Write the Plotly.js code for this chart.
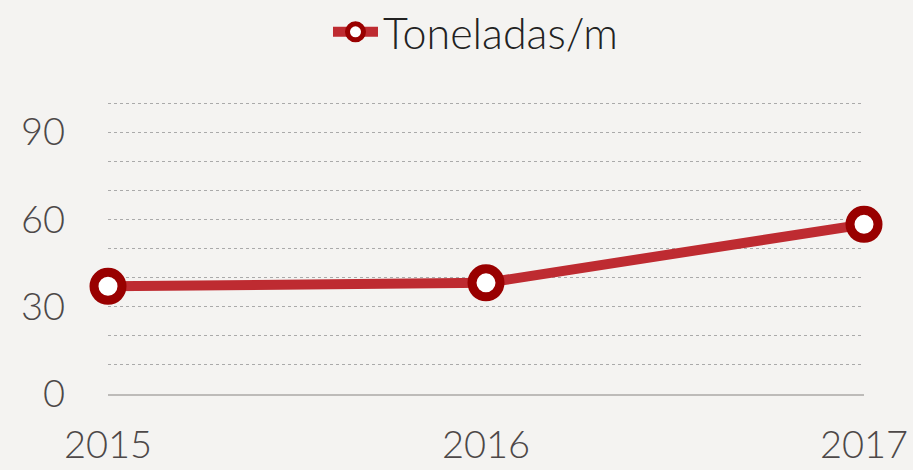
<!DOCTYPE html>
<html>
<head>
<meta charset="utf-8">
<script src="https://cdn.plot.ly/plotly-3.0.1.min.js"></script>
<style>html,body{margin:0;padding:0;background:#f4f3f1;}#chart{width:913px;height:470px;}</style>
</head>
<body>
<div id="chart"></div>
<script>
const years = [2015, 2016, 2017];
const toneladas = [37, 38.2, 58.3];
const seriesName = 'Toneladas/m';
const yTicks = [0, 30, 60, 90];
const yTickLabels = ['0', '30', '60', '90'];
const xTickLabels = ['2015', '2016', '2017'];

const FONT = 'Lato, "Source Sans Pro", "Open Sans", sans-serif';

const trace = {
  x: years,
  y: toneladas,
  name: seriesName,
  type: 'scatter',
  mode: 'lines+markers',
  line: {color: '#be2b31', width: 10},
  marker: {symbol: 'circle', size: 28, color: '#ffffff', line: {color: '#990000', width: 9}},
  cliponaxis: false
};

const layout = {
  width: 913, height: 470,
  paper_bgcolor: '#f4f3f1',
  plot_bgcolor: '#f4f3f1',
  margin: {l: 108, r: 49, t: 102, b: 76, autoexpand: false},
  font: {family: FONT, color: '#4d4848', size: 38, weight: 300},
  showlegend: true,
  legend: {
    orientation: 'h', x: 0.291, xanchor: 'left', y: 1.24, yanchor: 'middle',
    itemwidth: 45,
    font: {family: FONT, size: 43, color: '#222222', weight: 300},
    bgcolor: 'rgba(0,0,0,0)'
  },
  xaxis: {
    range: [2015, 2017],
    tickvals: years,
    ticktext: xTickLabels,
    showgrid: false,
    zeroline: false,
    showline: true, linecolor: '#bdbbb9', linewidth: 2,
    ticks: '', ticklabelstandoff: 16,
    tickfont: {family: FONT, size: 38, color: '#4d4848', weight: 300},
    fixedrange: true
  },
  yaxis: {
    range: [0, 100.35],
    tickvals: yTicks,
    ticktext: yTickLabels,
    showgrid: true, gridcolor: '#aaaaaa', gridwidth: 1, griddash: 'dot',
    minor: {dtick: 10, tick0: 0, showgrid: true, gridcolor: '#aaaaaa', gridwidth: 1, griddash: 'dot'},
    zeroline: false,
    showline: false,
    ticks: '', ticklabelstandoff: 42,
    tickfont: {family: FONT, size: 38, color: '#4d4848', weight: 300},
    fixedrange: true
  }
};

Plotly.newPlot('chart', [trace], layout, {displayModeBar: false, staticPlot: true});
</script>
</body>
</html>
